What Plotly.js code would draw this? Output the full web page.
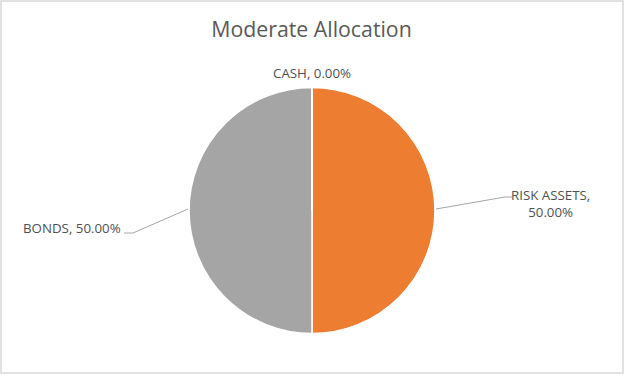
<!DOCTYPE html>
<html><head><meta charset="utf-8">
<script src="https://cdn.plot.ly/plotly-3.0.1.min.js"></script>
<style>html,body{margin:0;padding:0;background:#fff}</style>
</head><body><div id="chart" style="width:631px;height:383px"></div>
<script>
const categories = ["RISK ASSETS", "BONDS", "CASH"];
const shares = [50, 50, 0];
const colors = ["#ED7D31", "#A5A5A5", "#4472C4"];
const chartTitle = "Moderate Allocation";

const W = 631, H = 383;
const px = x => x / W, py = y => 1 - y / H;
const fmt = v => v.toFixed(2) + "%";

const trace = {
  type: "pie",
  labels: categories,
  values: shares,
  sort: false,
  direction: "clockwise",
  rotation: 0,
  textinfo: "none",
  hoverinfo: "label+percent",
  marker: {colors: colors, line: {color: "#ffffff", width: 1.5}},
  domain: {x: [px(189), px(435)], y: [py(333.5), py(87.5)]},
  showlegend: false
};

const labelFont = {family: "Open Sans, Liberation Sans, sans-serif", size: 13.3, color: "#505050"};
const annotations = [
  {text: categories[2] + ", " + fmt(shares[2]), x: px(312), y: py(73), xanchor: "center", yanchor: "middle"},
  {text: categories[0] + ",<br>" + fmt(shares[0]), x: px(550), y: py(203.5), xanchor: "center", yanchor: "middle"},
  {text: categories[1] + ", " + fmt(shares[1]), x: px(123), y: py(228), xanchor: "right", yanchor: "middle"}
].map(a => Object.assign({xref: "paper", yref: "paper", showarrow: false, font: labelFont, align: "center"}, a));

const lineStyle = {color: "#A6A6A6", width: 1};
const leader = (pts) => ({type: "path", xref: "paper", yref: "paper",
  path: pts.map((p, i) => (i ? "L" : "M") + px(p[0]) + "," + py(p[1])).join(" "), line: lineStyle});
const shapes = [
  {type: "rect", xref: "paper", yref: "paper", x0: px(1), x1: px(623), y0: py(373), y1: py(1), line: {color: "#D9D9D9", width: 1.5}, fillcolor: "rgba(0,0,0,0)"},
  leader([[436, 209], [505, 197], [512, 197]]),
  leader([[124, 233], [133, 233], [188, 209]])
];

const layout = {
  width: W, height: H,
  margin: {l: 0, r: 0, t: 0, b: 0},
  paper_bgcolor: "#ffffff",
  title: {text: chartTitle, x: px(311.5), xanchor: "center", y: py(30), yanchor: "middle",
          font: {family: "Open Sans, Liberation Sans, sans-serif", size: 21.3, color: "#595959"}},
  annotations: annotations,
  shapes: shapes
};

Plotly.newPlot("chart", [trace], layout, {displayModeBar: false, staticPlot: true});
</script></body></html>
